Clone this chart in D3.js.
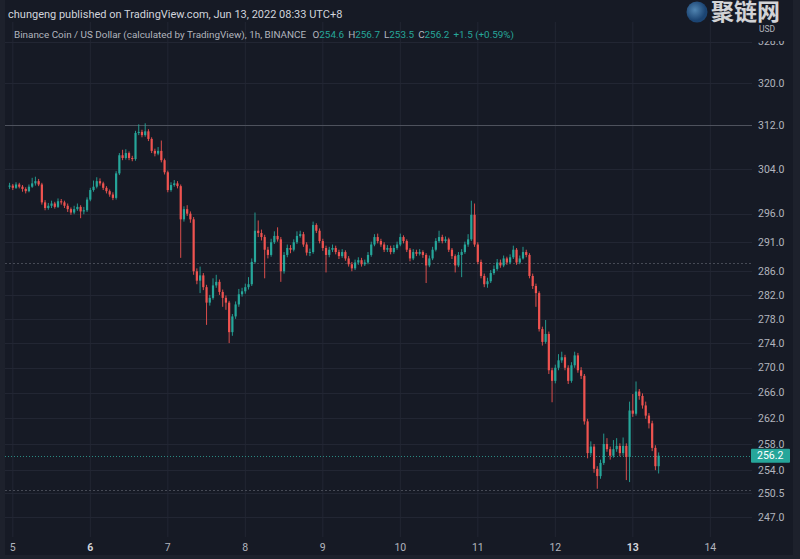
<!DOCTYPE html>
<html>
<head>
<meta charset="utf-8">
<script src="https://cdn.jsdelivr.net/npm/d3@7"></script>
<style>
  html, body { margin: 0; padding: 0; background: #161a25; }
  svg { display: block; }
</style>
</head>
<body>
<svg id="chart" width="800" height="559"></svg>
<script>
// ---------------- DATA ----------------
const startTime = Date.UTC(2022, 5, 4, 23); // first hourly candle (chart local time)
const firstOpen = 300.8;
const closes = [
301.0,300.6,301.2,300.8,300.4,300.0,300.8,301.4,301.8,301.2,
298.0,297.0,297.4,297.8,297.2,298.2,298.0,297.4,296.8,296.2,
296.8,297.2,296.4,296.6,298.5,300.2,300.8,301.8,301.4,300.6,
300.0,299.4,298.8,303.2,306.5,306.0,306.9,306.0,305.8,310.6,
310.8,310.2,310.9,309.5,307.3,306.8,307.3,305.6,303.4,300.2,
301.1,301.4,300.9,295.0,296.8,296.0,295.0,286.0,284.4,285.3,
283.3,280.7,281.5,283.6,284.2,282.5,281.5,280.7,275.8,278.4,
280.4,282.1,282.6,283.3,283.8,287.6,293.0,292.6,291.9,289.7,
288.8,291.0,292.1,291.5,286.0,288.8,290.0,289.7,291.0,292.1,
292.4,290.6,289.2,289.3,294.0,293.0,291.2,290.0,288.8,289.7,
290.0,289.3,288.6,289.3,288.2,287.2,286.5,287.5,287.9,287.2,
287.5,288.8,290.6,291.9,291.2,290.6,289.7,290.0,289.3,290.0,
290.6,291.9,291.2,289.7,288.2,289.3,289.0,289.3,288.8,287.0,
288.2,289.7,291.2,291.9,291.2,291.5,289.7,288.6,287.0,288.8,
289.3,290.6,291.5,295.8,290.6,287.6,285.2,283.8,284.3,285.7,
286.4,287.5,287.0,288.2,287.5,288.4,289.7,287.5,288.2,289.3,
288.8,285.2,283.5,282.3,276.3,274.2,275.5,269.6,267.9,270.0,
271.2,271.7,270.0,267.9,270.4,272.0,269.6,268.7,261.5,256.6,
257.6,254.2,253.1,255.1,258.0,257.2,256.2,257.2,257.7,256.6,
257.7,256.0,263.2,262.7,266.2,265.5,264.0,262.4,261.2,257.4,
254.6,256.2];
const highs = [
301.5,301.3,301.6,301.5,301.1,300.7,301.2,302.4,302.6,302.2,
301.5,298.4,297.9,298.3,298.1,298.7,298.6,298.3,297.8,297.1,
297.4,297.8,297.5,297.2,298.9,300.6,301.9,302.5,302.3,301.7,
300.9,300.3,299.8,303.6,306.9,307.5,307.6,307.2,306.4,311.0,
312.2,311.2,312.4,311.3,309.8,307.7,308.0,309.2,305.9,303.7,
301.6,302.0,301.8,301.2,297.3,297.5,296.4,295.4,286.5,286.8,
285.7,283.7,282.0,284.8,285.4,284.6,282.9,281.9,281.0,278.8,
280.9,283.0,283.2,283.9,285.0,288.2,296.2,294.8,293.2,292.3,
290.2,291.6,292.9,293.6,291.9,289.3,290.6,290.5,291.5,292.9,
293.0,292.8,291.0,289.9,294.6,294.3,293.4,291.6,290.4,290.2,
290.6,290.4,289.7,289.8,289.6,288.6,287.6,288.0,288.4,288.3,
288.0,289.3,291.1,292.4,292.5,291.6,291.0,290.5,290.4,290.5,
291.1,292.5,292.2,291.5,290.0,289.8,289.7,289.8,289.6,289.1,
288.7,290.2,291.7,293.0,292.3,292.0,291.8,290.0,288.9,289.3,
289.8,291.1,292.4,298.3,297.8,291.0,288.0,285.6,284.9,286.2,
287.0,288.1,288.0,288.7,288.5,288.9,290.4,290.0,288.7,290.2,
289.7,289.1,285.6,283.9,282.6,276.7,277.8,275.9,270.0,270.5,
272.2,272.6,272.1,270.4,270.9,272.6,272.4,270.1,269.0,261.9,
258.4,258.0,254.6,255.6,259.6,258.9,257.6,258.6,258.9,258.1,
259.0,258.1,264.6,265.8,267.8,266.6,265.9,264.6,262.8,261.6,
257.8,256.7];
const lows = [
300.4,300.2,300.4,300.5,299.9,299.6,299.8,300.6,301.0,300.9,
297.6,296.6,296.7,297.0,296.9,297.0,297.6,297.0,296.3,295.8,
295.9,296.5,295.2,295.9,296.3,298.2,299.9,300.5,301.0,300.2,
299.6,299.0,298.4,298.5,302.9,305.6,305.7,305.6,305.4,305.5,
310.2,309.8,309.9,309.1,306.9,306.3,306.5,305.2,303.0,299.8,
299.9,300.8,300.5,288.3,294.6,295.6,294.4,285.4,283.8,282.3,
282.8,277.0,280.2,281.2,283.2,282.0,280.0,279.5,274.0,275.2,
278.0,280.0,281.7,282.2,282.9,283.5,287.3,291.9,291.3,284.8,
288.2,288.5,290.7,291.1,284.2,285.6,288.4,289.1,289.4,290.7,
291.8,290.2,288.7,288.6,289.0,292.6,290.8,289.5,285.8,288.4,
289.3,288.9,288.1,288.3,287.8,286.8,286.0,286.2,287.1,286.8,
286.9,287.2,288.5,290.3,290.8,290.2,289.3,289.3,288.9,289.0,
289.7,290.3,290.8,289.3,287.7,287.9,288.6,288.7,288.3,284.0,
286.7,287.9,289.4,290.9,290.8,290.9,289.3,288.1,285.8,286.7,
285.0,289.0,290.2,291.2,290.2,287.2,284.8,283.3,283.2,284.0,
285.4,286.1,286.6,286.7,287.1,287.2,288.1,287.1,287.2,288.0,
288.4,284.8,283.0,280.0,275.9,273.6,273.9,269.0,264.5,267.5,
269.6,270.8,269.6,267.4,267.6,270.0,269.2,268.2,261.0,255.8,
256.2,253.6,251.2,252.7,254.8,256.8,255.6,255.9,256.8,256.1,
256.2,252.5,252.2,262.2,262.4,264.9,263.5,261.9,260.4,256.9,
254.0,253.5];

const priceTicks = [328, 320, 312, 304, 296, 291, 286, 282, 278, 274, 270, 266, 262, 258, 254, 250.5, 247];
const dayTicks = [5, 6, 7, 8, 9, 10, 11, 12, 13, 14];
const boldDays = [6, 13];
const drawnLevels = [312, 287.4, 251.0]; // horizontal lines on chart
const lastPrice = 256.2;

const headerTitle = "chungeng published on TradingView.com, Jun 13, 2022 08:33 UTC+8";
const legendName = "Binance Coin / US Dollar (calculated by TradingView), 1h, BINANCE";
const legendOHLC = [["O", "254.6"], ["H", "256.7"], ["L", "253.5"], ["C", "256.2"]];
const legendChange = "+1.5 (+0.59%)";
const watermark = "聚链网";

// ---------------- BUILD ----------------
const candles = closes.map((c, i) => ({
  t: new Date(startTime + i * 3600e3),
  o: i === 0 ? firstOpen : closes[i - 1],
  h: highs[i], l: lows[i], c
}));

const W = 800, H = 559;
const plot = { left: 5, right: 752, top: 22, bottom: 537 };
const UP = "#26a69a", DOWN = "#ef5350";
const svg = d3.select("#chart");

// frame
svg.append("rect").attr("width", W).attr("height", H).attr("fill", "#1d212c");
svg.append("rect").attr("x", 5).attr("y", 0).attr("width", 788).attr("height", 555).attr("fill", "#161a25");

const x = d3.scaleUtc()
  .domain([new Date(Date.UTC(2022, 5, 5)), new Date(Date.UTC(2022, 5, 14))])
  .range([12.8, 710.3]);
const y = d3.scaleLog().domain([247, 320]).range([517, 83]);

const defs = svg.append("defs");
defs.append("clipPath").attr("id", "plotclip").append("rect")
  .attr("x", plot.left).attr("y", plot.top).attr("width", plot.right - plot.left).attr("height", plot.bottom - plot.top);
defs.append("clipPath").attr("id", "axisclip").append("rect")
  .attr("x", plot.right).attr("y", 41).attr("width", 41).attr("height", plot.bottom - 41);

// grid
const grid = svg.append("g").attr("clip-path", "url(#plotclip)");
grid.selectAll("line.v").data(dayTicks).join("line")
  .attr("x1", d => x(new Date(Date.UTC(2022, 5, d)))).attr("x2", d => x(new Date(Date.UTC(2022, 5, d))))
  .attr("y1", plot.top).attr("y2", plot.bottom)
  .attr("stroke", "#222633").attr("stroke-width", 1);
grid.selectAll("line.h").data(priceTicks).join("line")
  .attr("x1", plot.left).attr("x2", plot.right)
  .attr("y1", d => Math.round(y(d)) + 0.5).attr("y2", d => Math.round(y(d)) + 0.5)
  .attr("stroke", "#222633").attr("stroke-width", 1);

// drawn horizontal levels
grid.selectAll("line.lvl").data(drawnLevels).join("line")
  .attr("x1", plot.left).attr("x2", plot.right)
  .attr("y1", d => Math.round(y(d)) + 0.5).attr("y2", d => Math.round(y(d)) + 0.5)
  .attr("stroke", (d, i) => i === 0 ? "#4e525d" : "#464a55")
  .attr("stroke-width", 1)
  .attr("stroke-dasharray", (d, i) => i === 0 ? null : "2,2");

// last price line
grid.append("line")
  .attr("x1", plot.left).attr("x2", plot.right)
  .attr("y1", Math.round(y(lastPrice)) + 0.5).attr("y2", Math.round(y(lastPrice)) + 0.5)
  .attr("stroke", "#2a8a82").attr("stroke-width", 1).attr("stroke-dasharray", "1,2");

// candles
const cg = svg.append("g").attr("clip-path", "url(#plotclip)");
const bw = 2.2;
cg.selectAll("line.wick").data(candles).join("line")
  .attr("x1", d => x(d.t)).attr("x2", d => x(d.t))
  .attr("y1", d => y(d.h)).attr("y2", d => y(d.l))
  .attr("stroke", d => d.c >= d.o ? UP : DOWN).attr("stroke-width", 0.9);
cg.selectAll("rect.body").data(candles).join("rect")
  .attr("x", d => x(d.t) - bw / 2)
  .attr("y", d => y(Math.max(d.o, d.c)))
  .attr("width", bw)
  .attr("height", d => Math.max(1, Math.abs(y(d.o) - y(d.c))))
  .attr("fill", d => d.c >= d.o ? UP : DOWN);

// watermark (drawn beneath axis labels)
const wm = svg.append("g");
const grad = defs.append("radialGradient").attr("id", "globe").attr("cx", "40%").attr("cy", "40%");
grad.append("stop").attr("offset", "0%").attr("stop-color", "#5f9fd4");
grad.append("stop").attr("offset", "100%").attr("stop-color", "#1d4f86");
wm.append("circle").attr("cx", 697).attr("cy", 12).attr("r", 10.5).attr("fill", "url(#globe)").attr("opacity", 0.8);
wm.append("text").attr("x", 711).attr("y", 12).attr("dy", "0.36em")
  .attr("fill", "#e2e3e6").attr("font-family", "'Noto Sans CJK SC', sans-serif").attr("font-weight", "bold")
  .attr("font-size", 23).attr("opacity", 0.92).text(watermark);

// price axis
const ax = svg.append("g").attr("clip-path", "url(#axisclip)");
ax.selectAll("text").data(priceTicks).join("text")
  .attr("x", 758).attr("y", d => y(d)).attr("dy", "0.35em")
  .attr("fill", "#b2b5be").attr("font-family", "Roboto, 'Noto Sans', sans-serif").attr("font-size", 10.5)
  .text(d => d.toFixed(1));
svg.append("text").attr("x", 759).attr("y", 29.5).attr("dy", "0.35em")
  .attr("fill", "#b2b5be").attr("font-family", "Roboto, sans-serif").attr("font-size", 8.5).text("USD");

// last price label
svg.append("rect").attr("x", 751).attr("y", y(lastPrice) - 7).attr("width", 39).attr("height", 14)
  .attr("fill", UP).attr("rx", 1);
svg.append("text").attr("x", 757).attr("y", y(lastPrice)).attr("dy", "0.35em")
  .attr("fill", "#ffffff").attr("font-family", "Roboto, sans-serif").attr("font-size", 10.5).text(lastPrice.toFixed(1));

// time axis
svg.selectAll("text.day").data(dayTicks).join("text")
  .attr("x", d => x(new Date(Date.UTC(2022, 5, d)))).attr("y", 547).attr("dy", "0.35em")
  .attr("text-anchor", "middle")
  .attr("fill", d => boldDays.includes(d) ? "#d1d4dc" : "#b2b5be")
  .attr("font-weight", d => boldDays.includes(d) ? "bold" : "normal")
  .attr("font-family", "Roboto, sans-serif").attr("font-size", 10.5)
  .text(d => d);

// header
svg.append("text").attr("x", 8).attr("y", 14).attr("dy", "0.35em")
  .attr("fill", "#d1d4dc").attr("font-family", "Roboto, 'Noto Sans', sans-serif").attr("font-size", 11)
  .text(headerTitle);
const lg = svg.append("text").attr("x", 14).attr("y", 35).attr("dy", "0.35em")
  .attr("font-family", "Roboto, 'Noto Sans', sans-serif").attr("font-size", 9.9).attr("fill", "#b2b5be");
lg.append("tspan").text(legendName + " ");
legendOHLC.forEach(([k, v]) => {
  lg.append("tspan").attr("dx", 4).attr("fill", "#b2b5be").text(k);
  lg.append("tspan").attr("fill", UP).text(v);
});
lg.append("tspan").attr("dx", 4).attr("fill", UP).text(legendChange);
</script>
</body>
</html>
